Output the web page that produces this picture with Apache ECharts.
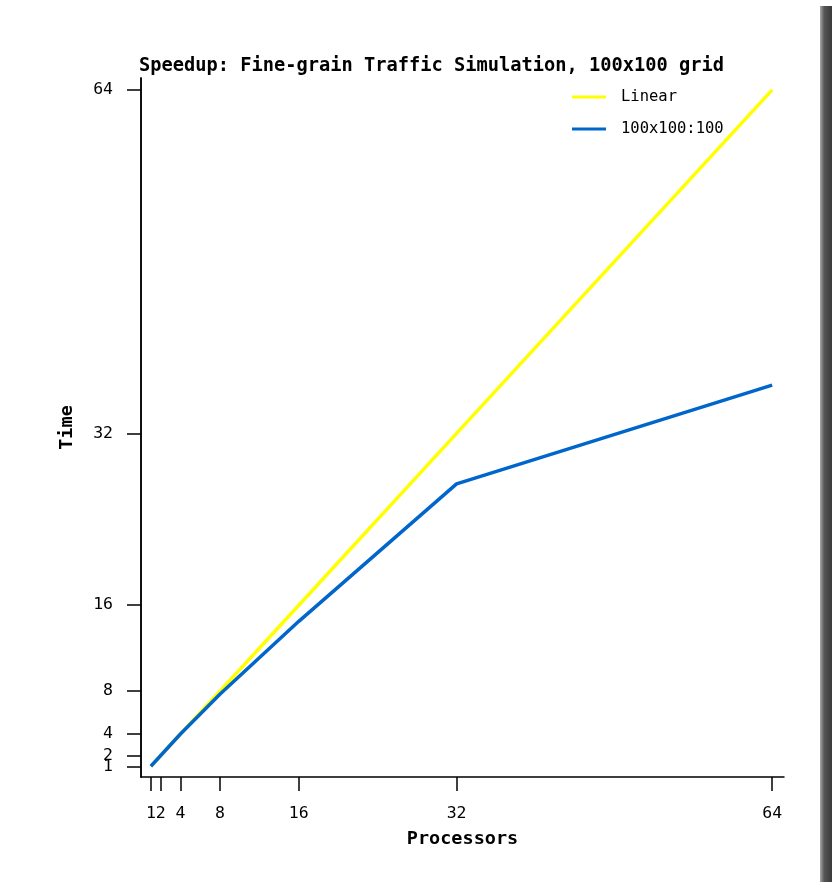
<!DOCTYPE html>
<html>
<head>
<meta charset="utf-8">
<script src="https://cdn.jsdelivr.net/npm/echarts@6/dist/echarts.min.js"></script>
<style>
  html, body { margin: 0; padding: 0; background: #ffffff; }
  #chart { width: 832px; height: 882px; }
</style>
</head>
<body>
<div id="chart"></div>
<script>
// Data
const processors = [1, 2, 4, 8, 16, 32, 64];
const linearSpeedup = [1, 2, 4, 8, 16, 32, 64];
const gridSpeedup = [1, 2, 4, 7.7, 14.5, 27.3, 36.5];
const xTicks = [1, 2, 4, 8, 16, 32, 64];
const yTicks = [2, 4, 8, 16, 32, 64];
const yTicksLow = [1];
const seriesNames = ['Linear', '100x100:100'];
const titleText = 'Speedup: Fine-grain Traffic Simulation, 100x100 grid';

const mono = 'DejaVu Sans Mono';
const chart = echarts.init(document.getElementById('chart'), null, { renderer: 'canvas' });

const pairs = (xs, ys) => xs.map((x, i) => [x, ys[i]]);

const yAxisBase = (ticks) => ({
  type: 'value',
  min: 0,
  max: 65.1,
  position: 'left',
  axisLine: { show: true, lineStyle: { color: '#000', width: 1.5 } },
  axisTick: { show: true, length: 14, customValues: ticks, lineStyle: { color: '#000', width: 1.5 } },
  axisLabel: { customValues: ticks, margin: 28, hideOverlap: false, interval: 0, fontFamily: mono, fontSize: 16.5, color: '#000' },
  splitLine: { show: false }
});

const y0 = yAxisBase(yTicks);
y0.name = 'Time';
y0.nameLocation = 'middle';
y0.nameGap = 64;
y0.nameRotate = 90;
y0.nameTextStyle = { fontFamily: mono, fontWeight: 'bold', fontSize: 18.5, color: '#000' };
const y1 = yAxisBase(yTicksLow);
y1.offset = 0;

chart.setOption({
  animation: false,
  backgroundColor: 'transparent',
  title: {
    text: titleText,
    left: 139,
    top: 57,
    padding: 0,
    textStyle: { fontFamily: mono, fontWeight: 'bold', fontSize: 18.7, color: '#000' }
  },
  legend: {
    orient: 'vertical',
    left: 572,
    top: 89,
    padding: 0,
    itemGap: 16,
    itemWidth: 34,
    itemHeight: 3,
    icon: 'rect',
    data: seriesNames,
    textStyle: { fontFamily: mono, fontSize: 15.5, color: '#000', lineHeight: 16, padding: [0, 0, 0, 10] }
  },
  grid: { left: 141, right: 48, top: 78, bottom: 105, containLabel: false },
  xAxis: {
    type: 'value',
    min: 0,
    max: 65.2,
    name: 'Processors',
    nameLocation: 'middle',
    nameGap: 53,
    nameTextStyle: { fontFamily: mono, fontWeight: 'bold', fontSize: 18.5, color: '#000' },
    axisLine: { show: true, lineStyle: { color: '#000', width: 1.5 } },
    axisTick: { show: true, length: 14, customValues: xTicks, lineStyle: { color: '#000', width: 1.5 } },
    axisLabel: { customValues: xTicks, margin: 28, hideOverlap: false, fontFamily: mono, fontSize: 16.5, color: '#000' },
    splitLine: { show: false }
  },
  yAxis: [y0, y1],
  series: [
    {
      name: seriesNames[0],
      type: 'line',
      yAxisIndex: 0,
      data: pairs(processors, linearSpeedup),
      showSymbol: false,
      symbol: 'none',
      color: '#ffff00',
      lineStyle: { color: '#ffff00', width: 3.5 },
      z: 2
    },
    {
      name: seriesNames[1],
      type: 'line',
      yAxisIndex: 0,
      data: pairs(processors, gridSpeedup),
      showSymbol: false,
      symbol: 'none',
      color: '#0066cc',
      lineStyle: { color: '#0066cc', width: 3.5 },
      z: 3
    }
  ],
  graphic: [
    {
      type: 'rect',
      shape: { x: 820, y: 6, width: 12, height: 876 },
      style: {
        fill: new echarts.graphic.LinearGradient(0, 0, 1, 0, [
          { offset: 0, color: '#a8a8a8' },
          { offset: 0.35, color: '#555555' },
          { offset: 1, color: '#3a3a3a' }
        ])
      },
      silent: true
    }
  ]
});
</script>
</body>
</html>
